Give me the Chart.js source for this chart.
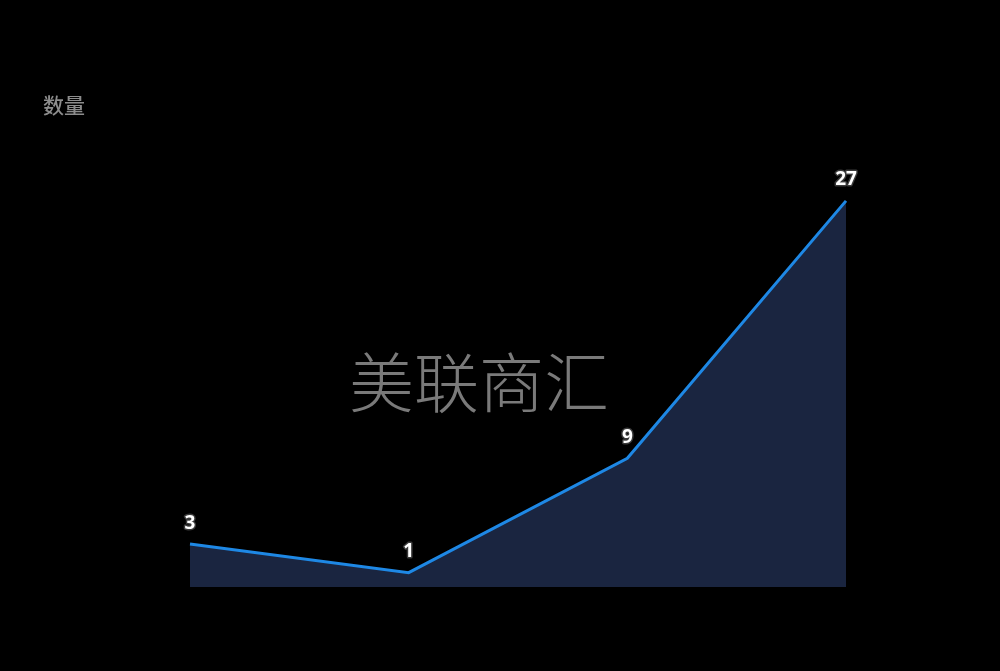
<!DOCTYPE html>
<html><head><meta charset="utf-8">
<script src="https://cdn.jsdelivr.net/npm/chart.js@4/dist/chart.umd.min.js"></script>
<style>html,body{margin:0;padding:0;background:#000;}#wrap{width:1000px;height:671px;position:relative;}</style>
</head><body><div id="wrap"><canvas id="c" width="1000" height="671"></canvas></div>
<script>
const categories = ['1', '2', '3', '4'];
const values = [3, 1, 9, 27];
const yAxisTitle = '数量';
const watermark = '美联商汇';

const overlay = {
  id: 'overlay',
  beforeDatasetsDraw(chart) {
    const ctx = chart.ctx;
    ctx.save();
    ctx.fillStyle = '#8c8c8c';
    ctx.font = '500 21px "Noto Sans CJK SC"';
    ctx.textAlign = 'left';
    ctx.textBaseline = 'middle';
    ctx.fillText(yAxisTitle, 43, 105);
    ctx.fillStyle = '#7a7a7a';
    ctx.font = '300 65px "Noto Sans CJK SC"';
    ctx.textAlign = 'center';
    ctx.fillText(watermark, 479, 382);
    ctx.restore();
  },
  afterDatasetsDraw(chart) {
    const ctx = chart.ctx;
    const meta = chart.getDatasetMeta(0);
    ctx.save();
    ctx.font = 'bold 19px "Noto Sans"';
    ctx.textAlign = 'center';
    ctx.textBaseline = 'middle';
    ctx.lineJoin = 'round';
    meta.data.forEach((pt, i) => {
      const t = String(values[i]);
      const y = pt.y - 21;
      ctx.lineWidth = 3;
      ctx.strokeStyle = '#3a3a3a';
      ctx.strokeText(t, pt.x, y);
      ctx.fillStyle = '#ffffff';
      ctx.fillText(t, pt.x, y);
    });
    ctx.restore();
  }
};

new Chart(document.getElementById('c'), {
  type: 'line',
  data: {
    labels: categories,
    datasets: [{
      data: values,
      borderColor: '#1e88e5',
      borderWidth: 3,
      backgroundColor: '#1a2540',
      fill: 'origin',
      tension: 0,
      pointRadius: 0,
      pointHoverRadius: 0
    }]
  },
  options: {
    responsive: false,
    animation: false,
    devicePixelRatio: 1,
    layout: { padding: { left: 190, right: 154, top: 158, bottom: 84 } },
    plugins: { legend: { display: false }, tooltip: { enabled: false } },
    scales: {
      x: { display: false, offset: false },
      y: { display: false, min: 0, max: 30 }
    }
  },
  plugins: [overlay]
});
</script>
</body></html>
